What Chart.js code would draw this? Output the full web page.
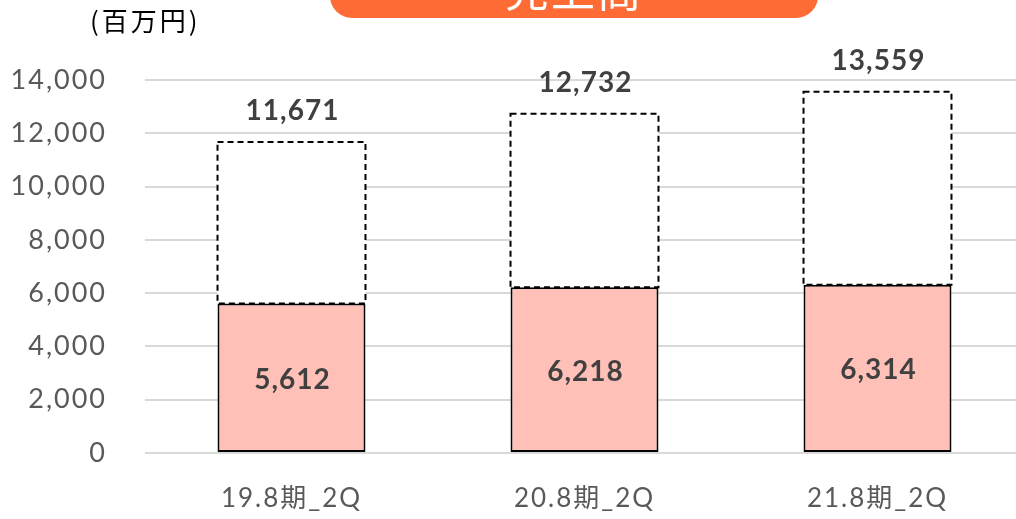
<!DOCTYPE html>
<html>
<head>
<meta charset="utf-8">
<script src="https://cdn.jsdelivr.net/npm/chart.js@4"></script>
<style>
  html, body { margin: 0; padding: 0; background: #fff; overflow: hidden; }
  #wrap { position: relative; width: 1016px; height: 519px; overflow: hidden; }
  #pill {
    position: absolute; left: 330px; top: -42px; width: 488px; height: 60px;
    background: #FF6B35; border-radius: 0 0 22px 22px; overflow: hidden;
    color: #fff; font-family: "Noto Sans CJK JP", sans-serif; font-size: 44px;
    text-align: center; line-height: 60px; letter-spacing: 2px;
  }
  #unit {
    position: absolute; left: 90px; top: 1px; letter-spacing: 3px;
    font-family: "Noto Sans CJK JP", sans-serif; font-size: 26px; color: #000;
  }
  canvas { position: absolute; left: 0; top: 0; }
</style>
</head>
<body>
<div id="wrap">
  <canvas id="salesChart" width="1024" height="519"></canvas>
  <div id="pill">売上高</div>
  <div id="unit">(百万円)</div>
</div>
<script>
const categories = ['19.8期_2Q', '20.8期_2Q', '21.8期_2Q'];
const firstHalf = [5612, 6218, 6314];
const fullYear = [11671, 12732, 13559];
const yTicks = [0, 2000, 4000, 6000, 8000, 10000, 12000, 14000];

const remainder = fullYear.map((v, i) => v - firstHalf[i]);
const fmt = v => v.toLocaleString('en-US');

const labelFont = 'bold 28px "Lato", "DejaVu Sans", sans-serif';

// wider letter spacing, closer to the original's geometric face
const spacing = {
  id: 'spacing',
  beforeDraw(chart) { chart.ctx.letterSpacing = '2px'; }
};

const barLabels = {
  id: 'barLabels',
  afterDatasetsDraw(chart) {
    const ctx = chart.ctx;
    const bottom = chart.getDatasetMeta(0);
    const top = chart.getDatasetMeta(1);
    ctx.save();
    // dashed outline for the full-year box
    ctx.strokeStyle = '#000';
    ctx.lineWidth = 2;
    ctx.setLineDash([6, 4]);
    top.data.forEach(el => {
      const left = el.x - el.width / 2;
      ctx.strokeRect(left, el.y, el.width, el.base - el.y);
    });
    ctx.setLineDash([]);
    ctx.fillStyle = '#404040';
    ctx.font = labelFont;
    ctx.letterSpacing = '1px';
    ctx.textAlign = 'center';
    ctx.textBaseline = 'middle';
    bottom.data.forEach((el, i) => {
      ctx.fillText(fmt(firstHalf[i]), el.x + 1, (el.y + el.base) / 2 + 2);
    });
    top.data.forEach((el, i) => {
      ctx.fillText(fmt(fullYear[i]), el.x + 1, el.y - 31);
    });
    ctx.restore();
  }
};

new Chart(document.getElementById('salesChart'), {
  type: 'bar',
  data: {
    labels: categories,
    datasets: [
      {
        data: firstHalf,
        backgroundColor: '#FFC0B7',
        borderColor: '#000',
        borderWidth: 2,
        borderSkipped: false,
        barPercentage: 0.505,
        categoryPercentage: 1
      },
      {
        data: remainder,
        backgroundColor: '#fff',
        borderWidth: 0,
        barPercentage: 0.505,
        categoryPercentage: 1
      }
    ]
  },
  options: {
    responsive: false,
    animation: false,
    layout: { padding: { top: 80, right: 0, bottom: 0, left: 0 } },
    plugins: { legend: { display: false }, tooltip: { enabled: false } },
    scales: {
      x: {
        stacked: true,
        grid: { display: false, drawTicks: false },
        border: { display: false },
        ticks: { color: '#595959', font: { family: '"Lato", "Noto Sans CJK JP", sans-serif', size: 26 }, padding: 30 },
        afterFit(axis) { axis.height = 66; }
      },
      y: {
        stacked: true,
        min: 0,
        max: 14000,
        afterBuildTicks(axis) { axis.ticks = yTicks.map(v => ({ value: v })); },
        grid: { color: '#D9D9D9', lineWidth: 2, drawTicks: false },
        border: { display: false },
        ticks: {
          color: '#595959',
          font: { family: '"Lato", sans-serif', size: 27 },
          padding: 38,
          callback: v => fmt(v)
        },
        afterFit(axis) { axis.width = 145; }
      }
    }
  },
  plugins: [spacing, barLabels]
});
</script>
</body>
</html>
